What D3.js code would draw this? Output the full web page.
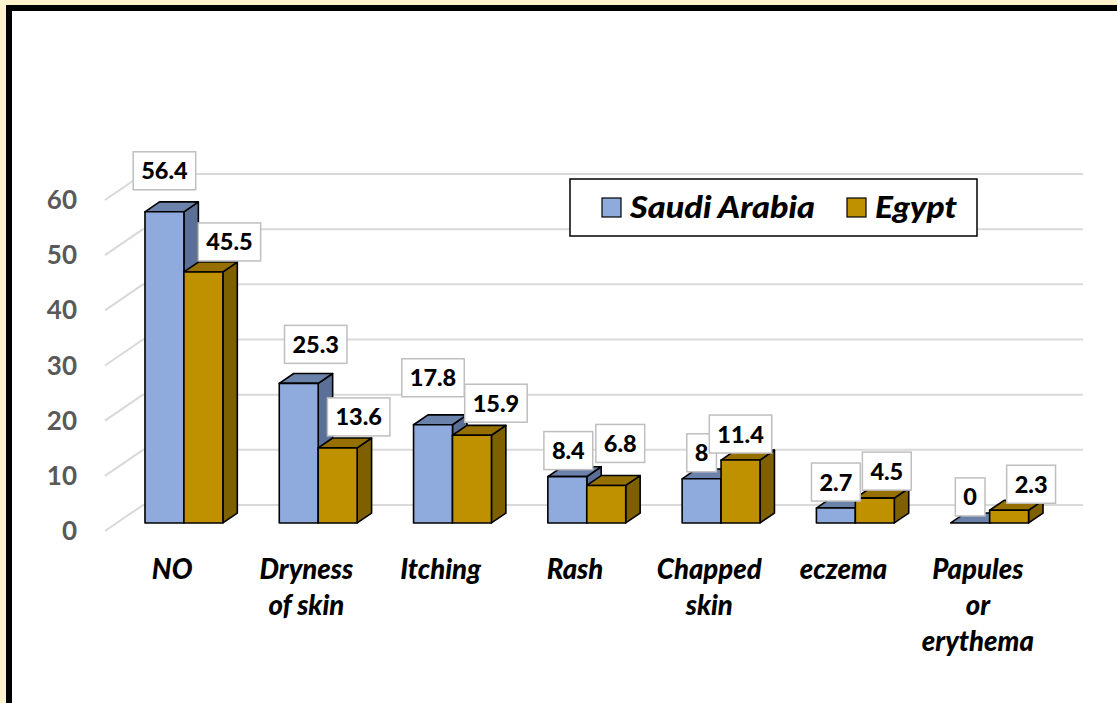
<!DOCTYPE html>
<html>
<head>
<meta charset="utf-8">
<script src="https://cdn.jsdelivr.net/npm/d3@7"></script>
<style>
  html, body { margin: 0; padding: 0; background: #fff2cc; }
  svg { display: block; }
</style>
</head>
<body>
<div id="chart"></div>
<script>
// Data
var categories = ["NO", "Dryness of skin", "Itching", "Rash", "Chapped skin", "eczema", "Papules or erythema"];
var categoryLines = [["NO"], ["Dryness", "of skin"], ["Itching"], ["Rash"], ["Chapped", "skin"], ["eczema"], ["Papules", "or", "erythema"]];
var seriesNames = ["Saudi Arabia", "Egypt"];
var saudiValues = [56.4, 25.3, 17.8, 8.4, 8, 2.7, 0];
var egyptValues = [45.5, 13.6, 15.9, 6.8, 11.4, 4.5, 2.3];
var yTicks = [0, 10, 20, 30, 40, 50, 60];

// label nudges (px) away from the default spot above each bar
var saudiNudge = [[0, -15], [17, -13], [0, -21], [1, 0], [0, 0], [0, 0], [0, 0]];
var egyptNudge = [[26, -4], [21, -5], [24, -6], [14, -16], [0, 0], [12, -1], [22, 0]];

var svgWidth = 1117;
var svgHeight = 703;

// colours of the three faces for each series
var faces = [
  { front: "#8faadc", top: "#6b82aa", side: "#5b7096" },
  { front: "#bf9000", top: "#957000", side: "#7f6000" }
];

var svg = d3.select("#chart")
  .append("svg")
  .attr("width", svgWidth)
  .attr("height", svgHeight);

// white chart area with the thick black frame
svg.append("rect")
  .attr("x", 9)
  .attr("y", 8)
  .attr("width", svgWidth + 20)
  .attr("height", svgHeight + 20)
  .attr("fill", "#fff")
  .attr("stroke", "#000")
  .attr("stroke-width", 6);

// 3D geometry: floor front plane -> back wall vector
var depth = { dx: 38, dy: -26 };
var barFrontT = 0.31;   // bar front face, fraction of floor depth
var barDepthT = 0.38;   // bar thickness, fraction of floor depth

// scales on the floor-front plane
var x0 = d3.scaleBand()
  .domain(categories)
  .range([105, 1045])
  .paddingInner(0.42)
  .paddingOuter(0.21);

var x1 = d3.scaleBand()
  .domain(seriesNames)
  .range([0, x0.bandwidth()]);

var y = d3.scaleLinear()
  .domain([0, 60])
  .range([531, 200]);

function proj(px, py, t) {
  return [px + depth.dx * t, py + depth.dy * t];
}

// back wall gridlines
var wallLeft = proj(105, 0, 1)[0];
var wallRight = proj(1045, 0, 1)[0];
var grid = svg.append("g");

grid.selectAll(".back")
  .data(yTicks)
  .enter()
  .append("line")
  .attr("x1", wallLeft)
  .attr("x2", wallRight)
  .attr("y1", d => y(d) + depth.dy)
  .attr("y2", d => y(d) + depth.dy)
  .attr("stroke", "#d9d9d9")
  .attr("stroke-width", 2);

// side wall diagonals
grid.selectAll(".side")
  .data(yTicks)
  .enter()
  .append("line")
  .attr("x1", 105)
  .attr("y1", d => y(d))
  .attr("x2", wallLeft)
  .attr("y2", d => y(d) + depth.dy)
  .attr("stroke", "#d9d9d9")
  .attr("stroke-width", 2);

// y axis labels
svg.append("g")
  .selectAll("text")
  .data(yTicks)
  .enter()
  .append("text")
  .attr("x", 77)
  .attr("y", d => y(d) + 9)
  .attr("text-anchor", "end")
  .attr("font-family", "Lato, 'Open Sans', sans-serif")
  .attr("font-weight", "bold")
  .attr("font-size", "26px")
  .attr("fill", "#595959")
  .text(d => d);

// build bar records
var bars = [];
categories.forEach(function(c, i) {
  [saudiValues, egyptValues].forEach(function(vals, s) {
    bars.push({
      cat: c,
      series: s,
      value: vals[i],
      nudge: (s === 0 ? saudiNudge : egyptNudge)[i]
    });
  });
});

var dxBar = depth.dx * barDepthT;
var dyBar = depth.dy * barDepthT;

var barGroup = svg.append("g");

bars.forEach(function(d) {
  var left = x0(d.cat) + x1(seriesNames[d.series]);
  var w = x1.bandwidth();
  var p0 = proj(left, y(0), barFrontT);
  var pt = proj(left, y(d.value), barFrontT);
  var xl = p0[0], xr = p0[0] + w, yb = p0[1], yt = pt[1];
  var g = barGroup.append("g")
    .attr("stroke", "#000")
    .attr("stroke-width", 1.6)
    .attr("stroke-linejoin", "round");
  var f = faces[d.series];

  // right side face
  g.append("path")
    .attr("d", `M${xr},${yb}L${xr + dxBar},${yb + dyBar}L${xr + dxBar},${yt + dyBar}L${xr},${yt}Z`)
    .attr("fill", f.side);
  // top face
  g.append("path")
    .attr("d", `M${xl},${yt}L${xr},${yt}L${xr + dxBar},${yt + dyBar}L${xl + dxBar},${yt + dyBar}Z`)
    .attr("fill", f.top);
  // front face
  if (d.value > 0) {
    g.append("rect")
      .attr("x", xl)
      .attr("y", yt)
      .attr("width", w)
      .attr("height", yb - yt)
      .attr("fill", f.front);
  }
  d.cx = xl + w / 2;
  d.cy = yt;
});

// data labels
var labelGroup = svg.append("g");
bars.forEach(function(d) {
  var g = labelGroup.append("g");
  var cx = d.cx + d.nudge[0];
  var cy = d.cy - 26 + d.nudge[1];
  var box = g.append("rect")
    .attr("fill", "#fff")
    .attr("stroke", "#bfbfbf")
    .attr("stroke-width", 1.5);
  var t = g.append("text")
    .attr("x", cx)
    .attr("y", cy + 8.5)
    .attr("text-anchor", "middle")
    .attr("font-family", "Lato, 'Open Sans', sans-serif")
    .attr("font-weight", "900")
    .attr("font-size", "23.5px")
    .attr("fill", "#000")
    .text(d.value);
  var tw = t.node().getComputedTextLength();
  box.attr("x", cx - tw / 2 - 8)
    .attr("y", cy - 19)
    .attr("width", tw + 16)
    .attr("height", 38);
});

// category labels
var catGroup = svg.append("g");
categories.forEach(function(c, i) {
  var t = catGroup.append("text")
    .attr("text-anchor", "middle")
    .attr("font-family", "Lato, 'Open Sans', sans-serif")
    .attr("font-weight", "900")
    .attr("font-style", "italic")
    .attr("font-size", "27.5px")
    .attr("fill", "#000");
  categoryLines[i].forEach(function(line, k) {
    t.append("tspan")
      .attr("x", x0(c) + x0.bandwidth() / 2)
      .attr("y", 579 + k * 36)
      .text(line);
  });
});

// legend
var legend = svg.append("g");
legend.append("rect")
  .attr("x", 570)
  .attr("y", 179)
  .attr("width", 407)
  .attr("height", 57)
  .attr("fill", "#fff")
  .attr("stroke", "#000")
  .attr("stroke-width", 1.5);

var legendX = [602, 847];
var legendTextWidth = [185, 82];
seriesNames.forEach(function(name, s) {
  legend.append("rect")
    .attr("x", legendX[s])
    .attr("y", 198)
    .attr("width", 19)
    .attr("height", 19)
    .attr("fill", faces[s].front)
    .attr("stroke", "#000")
    .attr("stroke-width", 1.2);
  legend.append("text")
    .attr("x", legendX[s] + 28)
    .attr("y", 218)
    .attr("font-family", "Lato, 'Open Sans', sans-serif")
    .attr("font-weight", "900")
    .attr("font-style", "italic")
    .attr("font-size", "30px")
    .attr("textLength", legendTextWidth[s])
    .attr("lengthAdjust", "spacingAndGlyphs")
    .attr("fill", "#000")
    .text(name);
});
</script>
</body>
</html>
